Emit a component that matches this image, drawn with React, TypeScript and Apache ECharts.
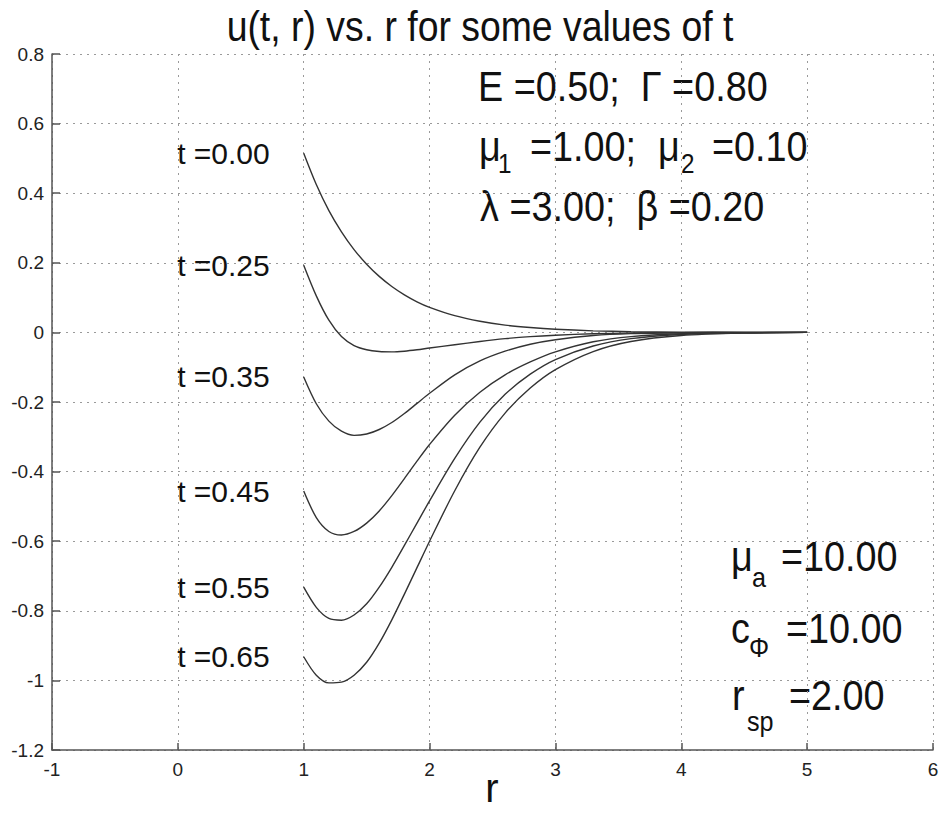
import React, { useEffect, useRef } from "react";
import * as echarts from "echarts";

// r values (common to all curves)
const R = [1, 1.1, 1.2, 1.3, 1.4, 1.5, 1.6, 1.7, 1.8, 1.9, 2.0, 2.2, 2.4, 2.6, 2.8, 3.0, 3.3, 3.6, 4.0, 4.5, 5.0];

// u(t, r) for each t
const U_T000 = [0.515, 0.425, 0.35, 0.289, 0.238, 0.196, 0.161, 0.132, 0.108, 0.088, 0.072, 0.048, 0.032, 0.021, 0.014, 0.009, 0.0045, 0.0022, 0.0008, 0.0002, 0];
const U_T025 = [0.193, 0.105, 0.035, -0.012, -0.038, -0.05, -0.055, -0.056, -0.054, -0.05, -0.045, -0.0355, -0.026, -0.018, -0.012, -0.008, -0.004, -0.0018, -0.0006, -0.0001, 0];
const U_T035 = [-0.128, -0.205, -0.255, -0.284, -0.296, -0.292, -0.279, -0.259, -0.233, -0.204, -0.175, -0.122, -0.082, -0.054, -0.034, -0.021, -0.009, -0.0035, -0.001, -0.0002, 0];
const U_T045 = [-0.456, -0.532, -0.572, -0.582, -0.572, -0.548, -0.513, -0.469, -0.42, -0.37, -0.322, -0.238, -0.172, -0.122, -0.085, -0.056, -0.027, -0.012, -0.004, -0.001, 0];
const U_T055 = [-0.732, -0.79, -0.822, -0.827, -0.812, -0.78, -0.732, -0.675, -0.612, -0.548, -0.484, -0.362, -0.258, -0.178, -0.12, -0.078, -0.039, -0.018, -0.006, -0.0015, 0];
const U_T065 = [-0.932, -0.985, -1.007, -1.005, -0.985, -0.948, -0.893, -0.826, -0.752, -0.676, -0.6, -0.455, -0.33, -0.232, -0.16, -0.107, -0.055, -0.026, -0.009, -0.002, 0];

const CURVES = [U_T000, U_T025, U_T035, U_T045, U_T055, U_T065];
const CURVE_LABELS = ["t =0.00", "t =0.25", "t =0.35", "t =0.45", "t =0.55", "t =0.65"];

const TITLE = "u(t, r) vs. r for some values of t";
const X_NAME = "r";

const FONT = "'Liberation Sans', Arial, Helvetica, sans-serif";

function txt(s: string, x: number, baseline: number, fs: number, sx = 0.9, align = "left") {
  return {
    type: "text",
    x,
    y: baseline - 0.3465 * fs - 2,
    scaleX: sx,
    silent: true,
    style: {
      text: s,
      fontSize: fs,
      fontFamily: FONT,
      fill: "#111",
      align,
      textAlign: align,
      verticalAlign: "middle",
      textVerticalAlign: "middle",
    },
  };
}

export default function App() {
  const ref = useRef<HTMLDivElement>(null);
  useEffect(() => {
    if (!ref.current) return;
    const chart = echarts.init(ref.current, undefined, { renderer: "svg" });
    const axisLineStyle = { color: "#555", width: 1.5 };
    const gridStyle = { color: "#9a9a9a", width: 1, type: [2, 5] as any };
    const series: any[] = CURVES.map((c, i) => ({
      type: "line",
      name: CURVE_LABELS[i],
      data: R.map((r, j) => [r, c[j]]),
      showSymbol: false,
      symbol: "none",
      smooth: 0.3,
      lineStyle: { color: "#333", width: 1.4 },
      z: 3,
    }));
    series.push({
      type: "scatter",
      symbolSize: 0,
      silent: true,
      itemStyle: { opacity: 1 },
      data: CURVES.map((c, i) => ({ value: [R[0], c[0]], name: CURVE_LABELS[i] })),
      label: {
        show: true,
        position: "left",
        distance: 34,
        formatter: "{b}",
        fontSize: 30,
        fontFamily: FONT,
        color: "#111",
        opacity: 1,
      },
    });
    chart.setOption({
      animation: false,
      backgroundColor: "#fff",
      grid: { left: 52, right: 6, top: 54, bottom: 64, outerBoundsMode: "none", containLabel: false },
      xAxis: {
        type: "value",
        min: -1,
        max: 6,
        interval: 1,
        axisLine: { show: true, onZero: false, lineStyle: axisLineStyle },
        axisTick: { show: true, inside: true, length: 7, lineStyle: axisLineStyle },
        axisLabel: { fontSize: 19, fontFamily: FONT, color: "#222", margin: 10, showMaxLabel: true, showMinLabel: true },
        splitLine: { show: true, lineStyle: gridStyle },
      },
      yAxis: {
        type: "value",
        min: -1.2,
        max: 0.8,
        interval: 0.2,
        axisLine: { show: true, onZero: false, lineStyle: axisLineStyle },
        axisTick: { show: true, inside: true, length: 8, lineStyle: axisLineStyle },
        axisLabel: {
          fontSize: 19,
          fontFamily: FONT,
          color: "#222",
          margin: 8,
          formatter: (v: number) => String(Math.round(v * 10) / 10),
        },
        splitLine: { show: true, lineStyle: gridStyle },
      },
      series,
      graphic: [
        txt(TITLE, 480, 43, 42, 0.89, "center"),
        txt(X_NAME, 492, 804, 40, 1, "center"),
        txt("E =0.50;  \u0393 =0.80", 478, 103, 42),
        txt("\u03bc", 479, 163, 42),
        txt("1", 498, 175, 27),
        txt("=1.00;", 530, 163, 42),
        txt("\u03bc", 658, 163, 42),
        txt("2", 681, 175, 27),
        txt("=0.10", 712, 163, 42),
        txt("\u03bb =3.00;  \u03b2 =0.20", 480, 223, 42),
        txt("\u03bc", 731, 573, 42),
        txt("a", 752, 589, 28),
        txt("=10.00", 781, 573, 42),
        txt("c", 731, 645, 42),
        txt("\u03a6", 749, 659, 28),
        txt("=10.00", 786, 645, 42),
        txt("r", 732, 712, 42),
        txt("sp", 747, 733, 28),
        txt("=2.00", 789, 712, 42),
      ],
    });
    return () => chart.dispose();
  }, []);
  return (
    <div
      ref={ref}
      style={{ position: "fixed", left: 0, top: 0, width: 939, height: 814, background: "#fff" }}
    />
  );
}
